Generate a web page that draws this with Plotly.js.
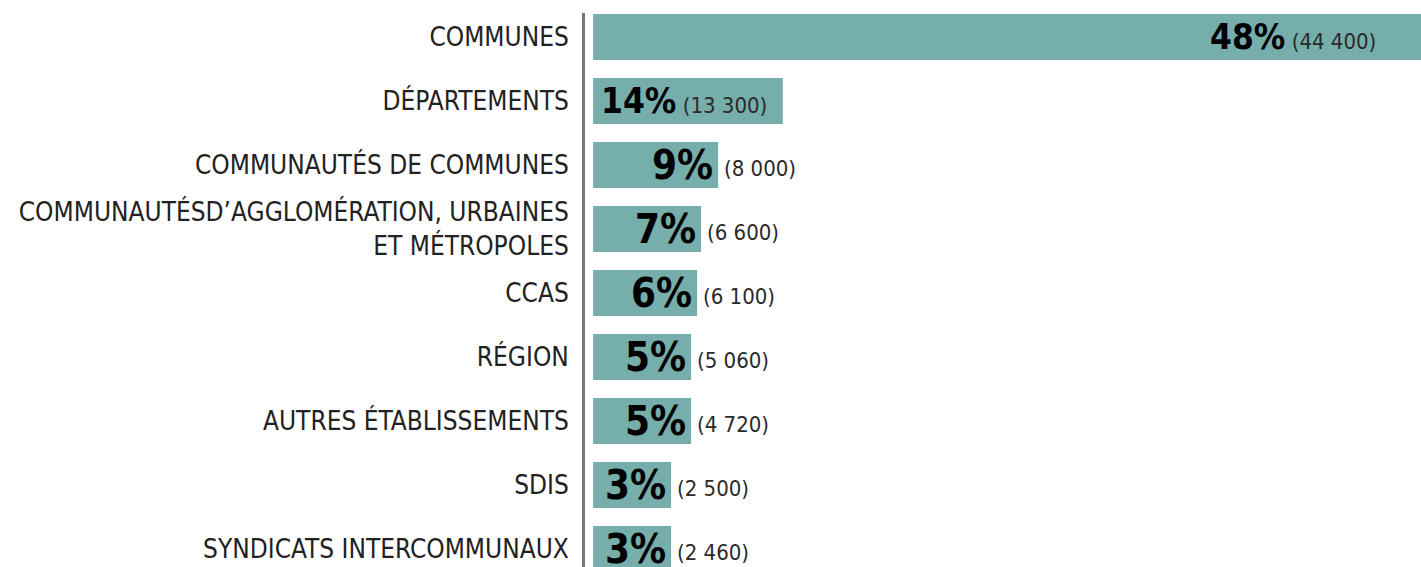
<!DOCTYPE html>
<html>
<head>
<meta charset="utf-8">
<script src="https://cdn.plot.ly/plotly-3.0.1.min.js"></script>
<style>
  html, body { margin: 0; padding: 0; background: #fff; }
  #chart { width: 1421px; height: 567px; }
</style>
</head>
<body>
<div id="chart"></div>
<script>
// Data
const categories = [
    "COMMUNES",
    "DÉPARTEMENTS",
    "COMMUNAUTÉS DE COMMUNES",
    "COMMUNAUTÉSD’AGGLOMÉRATION, URBAINES<br>ET MÉTROPOLES",
    "CCAS",
    "RÉGION",
    "AUTRES ÉTABLISSEMENTS",
    "SDIS",
    "SYNDICATS INTERCOMMUNAUX"
];
const shares = [48, 14, 9, 7, 6, 5, 5, 3, 3]; // percent
const counts = [44400, 13300, 8000, 6600, 6100, 5060, 4720, 2500, 2460];
// bar lengths as drawn in the source graphic (48% bar = 48, the others are not to scale)
const barLength = [48, 11.0, 7.25, 6.26, 6.03, 5.68, 5.68, 4.52, 4.52];

const BAR_COLOR = "#76aeab";
const LABEL_FONT = "Liberation Sans Narrow, DejaVu Sans Condensed, sans-serif";
const PCT_FONT = "DejaVu Sans Condensed, DejaVu Sans, sans-serif";

// "44400" -> "44 400"
function fmtCount(n) {
    return String(n).replace(/\B(?=(\d{3})+(?!\d))/g, " ");
}

const annotations = [];
categories.forEach((cat, i) => {
    const long = barLength[i] > 10;
    if (long) {
        // percent and count both fit inside the bar
        annotations.push({
            x: barLength[i], y: cat, xref: "x", yref: "y",
            xanchor: "right", yanchor: "middle",
            xshift: i === 0 ? -43 : -14,
            showarrow: false,
            text: `<span style="font-family:${PCT_FONT};font-size:35px;font-weight:bold;fill:#000;color:#000">${shares[i]}%</span> (${fmtCount(counts[i])})`,
            font: { family: LABEL_FONT, size: 22, color: "#2a2a2a" }
        });
    } else {
        annotations.push({
            x: barLength[i], y: cat, xref: "x", yref: "y",
            xanchor: "right", yanchor: "middle", xshift: -3,
            showarrow: false,
            text: `<b>${shares[i]}%</b>`,
            font: { family: PCT_FONT, size: 40, color: "#000" }
        });
        annotations.push({
            x: barLength[i], y: cat, xref: "x", yref: "y",
            xanchor: "left", yanchor: "middle", xshift: 4, yshift: -3,
            showarrow: false,
            text: `(${fmtCount(counts[i])})`,
            font: { family: LABEL_FONT, size: 22, color: "#2a2a2a" }
        });
    }
});

const trace = {
    type: "bar",
    orientation: "h",
    y: categories,
    x: barLength,
    marker: { color: BAR_COLOR },
    hoverinfo: "skip"
};

const layout = {
    width: 1421,
    height: 567,
    margin: { l: 585, r: 0, t: 13, b: 0 },
    paper_bgcolor: "#fff",
    plot_bgcolor: "#fff",
    showlegend: false,
    bargap: 0.28,
    xaxis: {
        range: [-0.47, 48],
        showgrid: false,
        zeroline: false,
        showticklabels: false,
        showline: false
    },
    yaxis: {
        type: "category",
        range: [8.28, -0.375],
        showgrid: false,
        zeroline: false,
        showline: true,
        linecolor: "#777",
        linewidth: 3,
        ticks: "",
        ticklabelstandoff: 8,
        tickfont: { family: LABEL_FONT, size: 26, color: "#222" }
    },
    annotations: annotations
};

Plotly.newPlot("chart", [trace], layout, { displayModeBar: false, staticPlot: true });
</script>
</body>
</html>
